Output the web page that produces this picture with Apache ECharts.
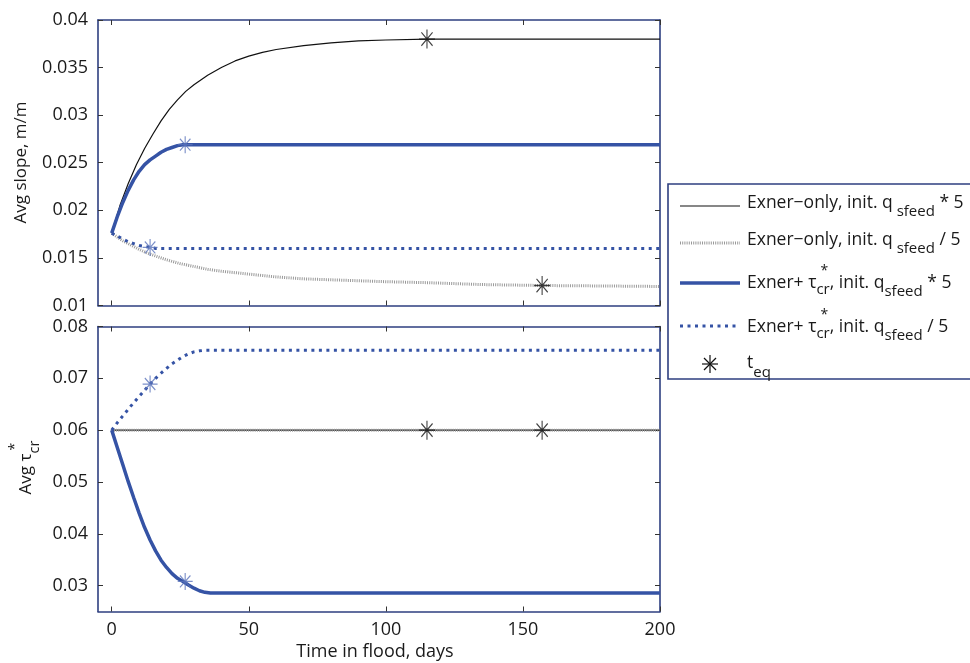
<!DOCTYPE html>
<html><head><meta charset="utf-8">
<script src="https://cdn.jsdelivr.net/npm/echarts@6/dist/echarts.min.js"></script>
<style>html,body{margin:0;padding:0;background:#fff}#c{width:970px;height:663px}</style>
</head><body><div id="c"></div>
<script>
// ---- data ----
const xTicks = [0, 50, 100, 150, 200];
const slopeTicks = [0.01, 0.015, 0.02, 0.025, 0.03, 0.035, 0.04];
const tauTicks = [0.03, 0.04, 0.05, 0.06, 0.07, 0.08];

// Exner-only, init. q*5 (black)
const tA = [0, 3, 6, 9, 12, 15, 18, 21, 24, 27, 30, 35, 40, 45, 50, 55, 60, 70, 80, 90, 100, 115, 130, 150, 175, 200];
const slopeA = [0.0176, 0.0205, 0.0228, 0.0248, 0.0265, 0.0280, 0.0294, 0.0306, 0.0316, 0.0325, 0.0332, 0.0342, 0.0350, 0.0357, 0.0362, 0.0366, 0.0369, 0.0373, 0.0376, 0.0378, 0.0379, 0.0380, 0.0380, 0.0380, 0.0380, 0.0380];
const tTauA = [0, 200];
const tauA = [0.06, 0.06];

// Exner-only, init. q/5 (grey dotted)
const tB = [0, 2, 4, 6, 8, 10, 13, 16, 20, 25, 30, 35, 40, 50, 60, 70, 85, 100, 115, 135, 157, 180, 200];
const slopeB = [0.0176, 0.0172, 0.0168, 0.0165, 0.0162, 0.0159, 0.0155, 0.0152, 0.0148, 0.0144, 0.0141, 0.0138, 0.0136, 0.0133, 0.0130, 0.0128, 0.01265, 0.0125, 0.0124, 0.0122, 0.0121, 0.01205, 0.0120];
const tTauB = [0, 200];
const tauB = [0.06, 0.06];

// Exner + tau*cr, init. q*5 (blue solid)
const tC = [0, 2, 4, 6, 8, 10, 12, 14, 16, 18, 20, 22, 24, 26, 27, 28, 200];
const slopeC = [0.0176, 0.0193, 0.0208, 0.0221, 0.0232, 0.0241, 0.0248, 0.0253, 0.0257, 0.0261, 0.0264, 0.0266, 0.0268, 0.0269, 0.0269, 0.0269, 0.0269];
const tTauC = [0, 2, 4, 6, 8, 10, 12, 14, 16, 18, 20, 22, 24, 26, 28, 30, 32, 34, 36, 200];
const tauC = [0.0600, 0.0567, 0.0534, 0.0501, 0.0470, 0.0440, 0.0412, 0.0388, 0.0367, 0.0349, 0.0335, 0.0323, 0.0314, 0.0308, 0.0301, 0.0295, 0.0290, 0.0287, 0.02855, 0.02855];

// Exner + tau*cr, init. q/5 (blue dotted)
const tD = [0, 2, 4, 6, 8, 10, 12, 14, 16, 200];
const slopeD = [0.0176, 0.0173, 0.0170, 0.0167, 0.0165, 0.0163, 0.0162, 0.0161, 0.0160, 0.0160];
const tTauD = [0, 2, 4, 6, 8, 10, 12, 14, 16, 18, 20, 22, 24, 26, 28, 30, 32, 34, 200];
const tauD = [0.0600, 0.0614, 0.0627, 0.0640, 0.0653, 0.0665, 0.0677, 0.0689, 0.0700, 0.0710, 0.0719, 0.0728, 0.0735, 0.0742, 0.0747, 0.0751, 0.0753, 0.0754, 0.0754];

// t_eq markers
const teqBlackT = [115, 157];
const teqBlackSlope = [0.0380, 0.0121];
const teqBlackTau = [0.06, 0.06];
const teqBlueT = [26.8, 14];
const teqBlueSlope = [0.0269, 0.0161];
const teqBlueTau = [0.0308, 0.0689];

// ---- styling ----
const FONT = 'Open Sans';
const NAVY = '#2e3f80';
const BLUE = '#3553a5';
const BLUE_STAR = '#5a73ba';
const TXT = '#1a1a1a';
const STAR = 'path://M10,0L10,20M0,10L20,10M3,3L17,17M3,17L17,3';

const zip = (a, b) => a.map((v, i) => [v, b[i]]);
const fmt = v => String(+(+v).toFixed(4));

function xAxisDef(grid, showLabel) {
  return {
    type: 'value', gridIndex: grid, min: -5, max: 200,
    position: showLabel === null ? 'top' : 'bottom',
    axisLine: { show: true, onZero: false, lineStyle: { color: NAVY, width: 1.6 } },
    axisTick: { show: true, inside: true, length: 5, customValues: xTicks, lineStyle: { color: '#333', width: 1 } },
    axisLabel: { show: !!showLabel, customValues: xTicks, margin: 9, fontFamily: FONT, fontSize: 18, color: TXT },
    splitLine: { show: false }
  };
}
function yAxisDef(grid, min, max, ticks, left) {
  return {
    type: 'value', gridIndex: grid, min: min, max: max,
    position: left ? 'left' : 'right',
    axisLine: { show: true, onZero: false, lineStyle: { color: NAVY, width: 1.6 } },
    axisTick: { show: true, inside: true, length: 5, customValues: ticks, lineStyle: { color: '#333', width: 1 } },
    axisLabel: { show: left, customValues: ticks, margin: 10, fontFamily: FONT, fontSize: 18, color: TXT, formatter: fmt },
    splitLine: { show: false }
  };
}
function lineSeries(name, xi, yi, data, style) {
  return { name, type: 'line', xAxisIndex: xi, yAxisIndex: yi, data, showSymbol: false, symbol: 'none', smooth: false,
    lineStyle: style, silent: true, animation: false };
}
function starSeries(xi, yi, data, color, size) {
  return { type: 'scatter', xAxisIndex: xi, yAxisIndex: yi, data, symbol: STAR, symbolSize: size,
    itemStyle: { color: 'transparent', borderColor: color, borderWidth: 1.2 }, silent: true, animation: false, z: 5 };
}

const sBlack = { color: '#111', width: 1.2, type: 'solid' };
const sGrey = { color: '#999', width: 3, type: [1, 1.2] };
const sBlue = { color: BLUE, width: 3.5, type: 'solid' };
const sBlueDot = { color: BLUE, width: 3, type: [3, 4.5] };

// ---- text helpers (sub/superscripts) ----
const mctx = document.createElement('canvas').getContext('2d');
function tw(t, s) { mctx.font = s + 'px "' + FONT + '"'; return mctx.measureText(t).width; }
function pieces(list, x0, y0) {
  let x = x0; const out = [];
  for (const p of list) {
    const [text, size, dy, adv = true, dx = 0] = p;
    out.push({ type: 'text', x: x + dx, y: y0 + dy, silent: true,
      style: { text, font: size + 'px "' + FONT + '"', fill: TXT, align: 'left', verticalAlign: 'middle' } });
    if (adv) x += tw(text, size);
  }
  return out;
}
function widthOf(list) { return list.reduce((s, p) => s + ((p[3] === undefined || p[3]) ? tw(p[0], p[1]) : 0), 0); }
function rotatedTitle(list, cx, cy) {
  const w = widthOf(list);
  return { type: 'group', x: cx, y: cy, rotation: Math.PI / 2, children: pieces(list, -w / 2, 0) };
}

const LX = 747;
const M = 17.5, S = 15;
const legendRows = [
  { y: 203, items: [['Exner−only, init. q', M, 0], [' sfeed', S, 9], [' * 5', M, 0]] },
  { y: 240, items: [['Exner−only, init. q', M, 0], [' sfeed', S, 9], [' / 5', M, 0]] },
  { y: 283, items: [['Exner+ τ', M, 0], ['*', 14, -12, false, 4], ['cr', S, 7], [', init. q', M, 0], ['sfeed', S, 9], [' * 5', M, 0]] },
  { y: 327, items: [['Exner+ τ', M, 0], ['*', 14, -12, false, 4], ['cr', S, 7], [', init. q', M, 0], ['sfeed', S, 9], [' / 5', M, 0]] },
  { y: 363, items: [['t', M, 0], ['eq', S, 10]] }
];

const graphics = [];
graphics.push({ type: 'rect', shape: { x: 668, y: 184, width: 320, height: 195 }, silent: true,
  style: { fill: '#fff', stroke: NAVY, lineWidth: 1.6 } });
const sampleY = [206, 243, 283, 326];
const sampleStyles = [sBlack, sGrey, sBlue, sBlueDot];
sampleStyles.forEach((st, i) => {
  graphics.push({ type: 'line', silent: true, shape: { x1: 680, y1: sampleY[i], x2: 740, y2: sampleY[i] },
    style: { stroke: st.color, lineWidth: st.width, lineDash: Array.isArray(st.type) ? st.type : null } });
});
// legend asterisk
const SX = 710, SY = 364;
[[0, -9, 0, 9], [-8, 0, 8, 0], [-6, -6, 6, 6], [-6, 6, 6, -6]].forEach(s => {
  graphics.push({ type: 'line', silent: true, shape: { x1: SX + s[0], y1: SY + s[1], x2: SX + s[2], y2: SY + s[3] },
    style: { stroke: '#111', lineWidth: 1.2 } });
});
legendRows.forEach(r => graphics.push(...pieces(r.items, LX, r.y)));

graphics.push(rotatedTitle([['Avg slope, m/m', 17, 0]], 21, 162.5));
graphics.push(rotatedTitle([['Avg τ', 17, 0], ['*', 14, -11, false, 3], ['cr', 14.5, 9]], 26, 467.5));
graphics.push({ type: 'text', x: 375, y: 652, silent: true,
  style: { text: 'Time in flood, days', font: '18px "' + FONT + '"', fill: TXT, align: 'center', verticalAlign: 'middle' } });

const option = {
  animation: false,
  backgroundColor: '#fff',
  grid: [
    { left: 98, top: 20, width: 562, height: 285.5 },
    { left: 98, top: 326.5, width: 562, height: 285 }
  ],
  xAxis: [xAxisDef(0, false), xAxisDef(0, null), xAxisDef(1, true), xAxisDef(1, null)],
  yAxis: [
    yAxisDef(0, 0.01, 0.04, slopeTicks, true), yAxisDef(0, 0.01, 0.04, slopeTicks, false),
    yAxisDef(1, 0.025, 0.08, tauTicks, true), yAxisDef(1, 0.025, 0.08, tauTicks, false)
  ],
  series: [
    lineSeries('A', 0, 0, zip(tA, slopeA), sBlack),
    lineSeries('B', 0, 0, zip(tB, slopeB), sGrey),
    lineSeries('C', 0, 0, zip(tC, slopeC), sBlue),
    lineSeries('D', 0, 0, zip(tD, slopeD), sBlueDot),
    starSeries(0, 0, zip(teqBlackT, teqBlackSlope), '#111', [16, 19]),
    starSeries(0, 0, zip(teqBlueT, teqBlueSlope), BLUE_STAR, [15, 17]),
    lineSeries('A2', 2, 2, zip(tTauA, tauA), sBlack),
    lineSeries('B2', 2, 2, zip(tTauB, tauB), sGrey),
    lineSeries('C2', 2, 2, zip(tTauC, tauC), sBlue),
    lineSeries('D2', 2, 2, zip(tTauD, tauD), sBlueDot),
    starSeries(2, 2, zip(teqBlackT, teqBlackTau), '#111', [16, 19]),
    starSeries(2, 2, zip(teqBlueT, teqBlueTau), BLUE_STAR, [15, 17])
  ],
  graphic: graphics
};
const chart = echarts.init(document.getElementById('c'), null, { renderer: 'canvas' });
chart.setOption(option);
</script></body></html>
